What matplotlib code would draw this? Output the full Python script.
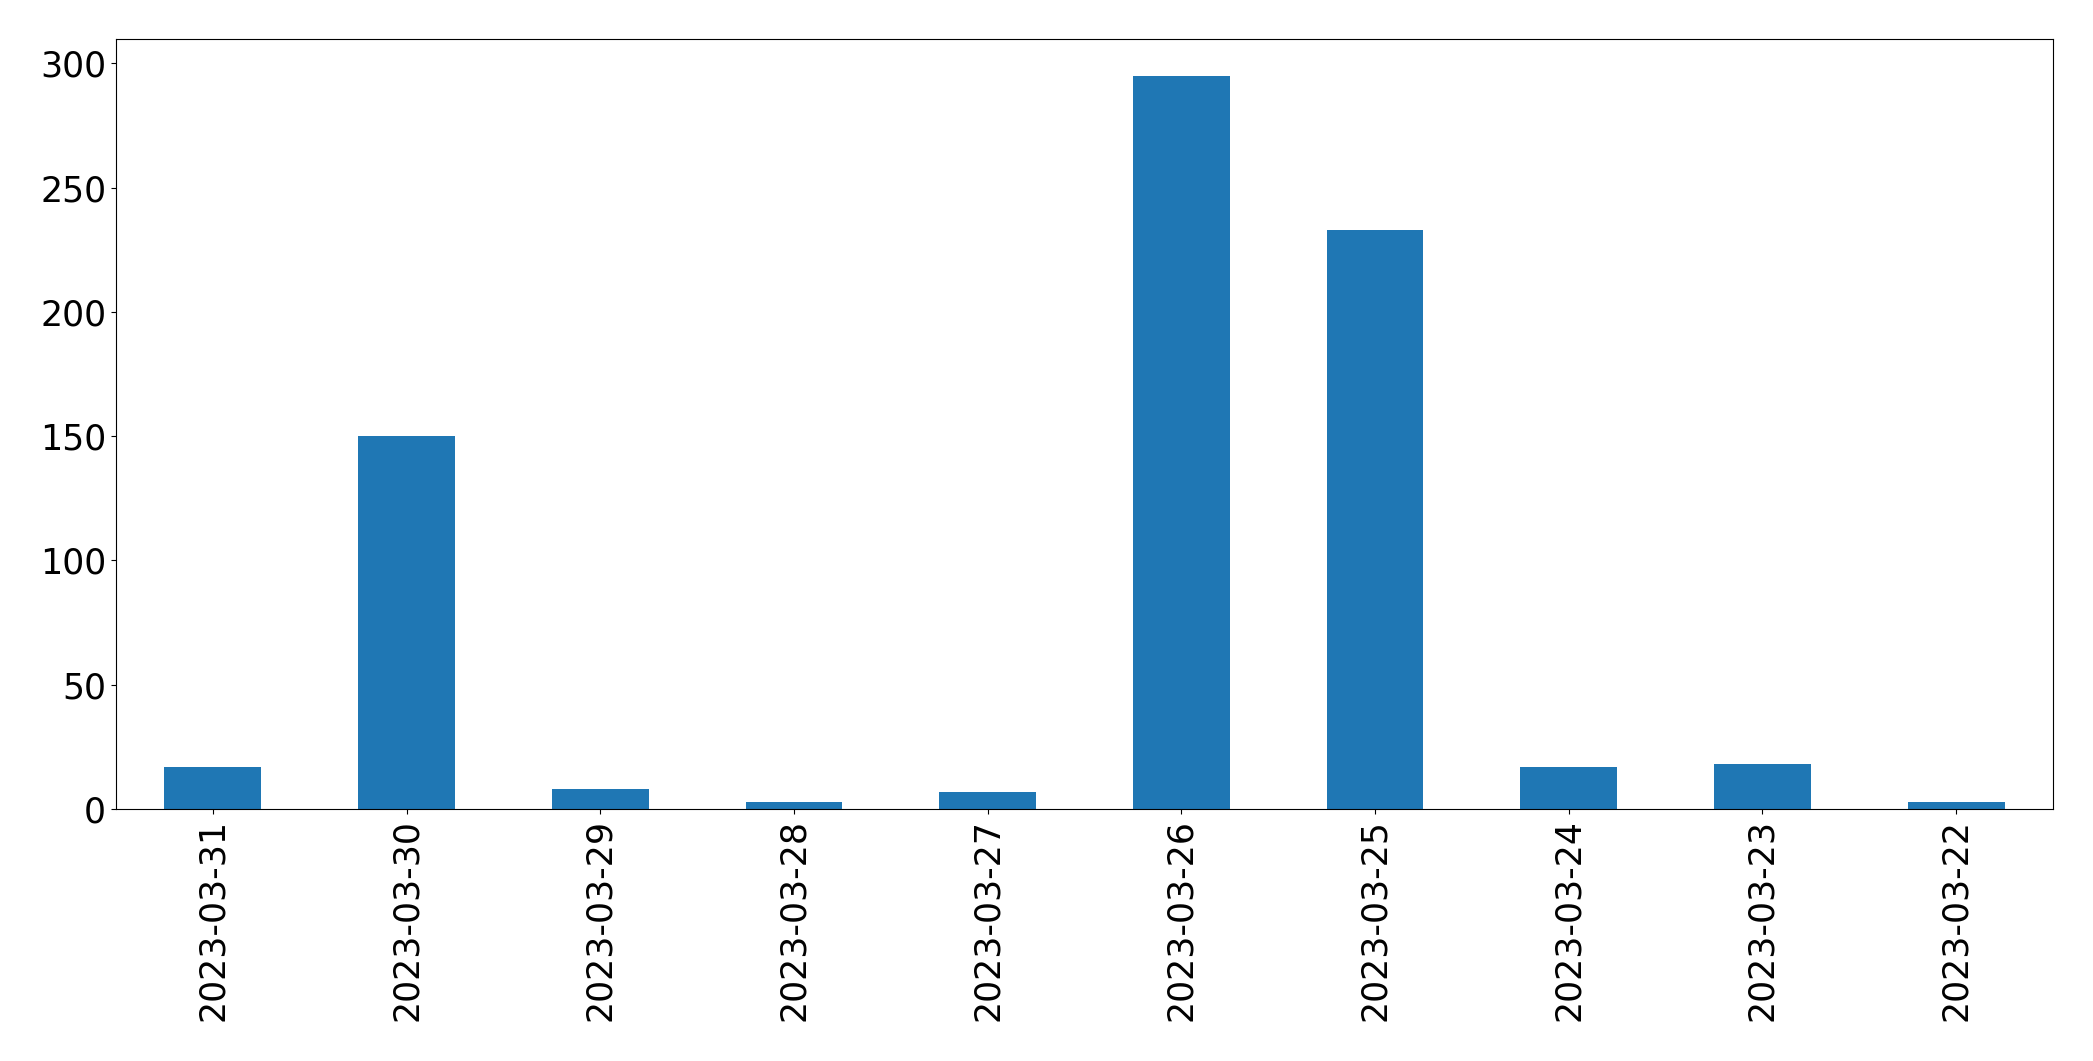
import matplotlib
matplotlib.use("Agg")
import matplotlib.pyplot as plt

dates = ["2023-03-31", "2023-03-30", "2023-03-29", "2023-03-28", "2023-03-27",
         "2023-03-26", "2023-03-25", "2023-03-24", "2023-03-23", "2023-03-22"]
counts = [17, 150, 8, 3, 7, 295, 233, 17, 18, 3]

fig = plt.figure(figsize=(20.93, 10.61), dpi=100)
ax = fig.add_axes([0.0554, 0.2375, 0.9255, 0.7257])
x = range(len(dates))
ax.bar(x, counts, width=0.5, color="#1f77b4")
ax.set_xlim(-0.5, len(dates) - 0.5)
ax.set_xticks(list(x))
ax.set_xticklabels(dates, rotation=90)
ax.tick_params(axis="both", labelsize=25)
fig.savefig("out.png", dpi=100)
